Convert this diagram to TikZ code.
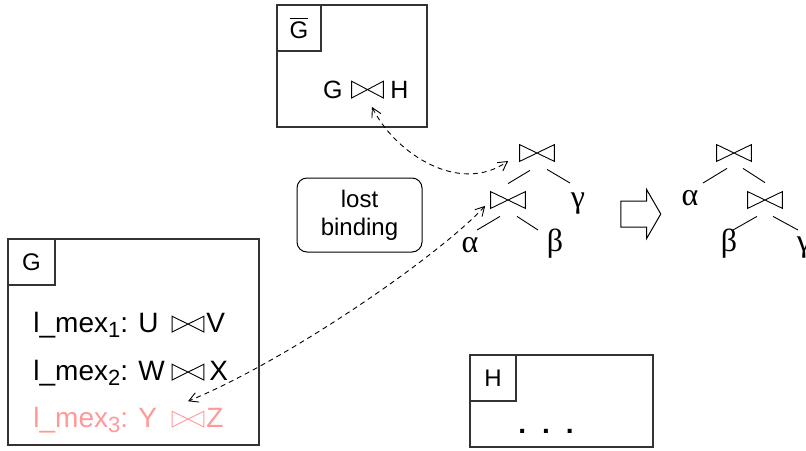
\documentclass[tikz,border=0pt]{standalone}
\usepackage{fontspec}
\setmainfont{Liberation Sans}
\newfontfamily\greekfont{Liberation Serif}
\usetikzlibrary{arrows.meta,shapes.arrows}
\definecolor{lostpink}{HTML}{FF9999}
\definecolor{boxgray}{HTML}{333333}
\newcommand{\mexsub}[1]{\raisebox{-2.5pt}{\fontsize{11}{12}\selectfont #1}}

\begin{document}
\begin{tikzpicture}[x=0.5pt,y=-0.5pt,>={Straight Barb[length=4.5pt,width=5pt]},
  frame/.style={draw=boxgray,line width=0.6pt,inner sep=0pt},
  tag/.style={frame,anchor=north west,minimum width=23pt,minimum height=23pt,font=\fontsize{12}{14}\selectfont},
  joinop/.style={inner sep=0pt,minimum width=17pt,minimum height=8pt,anchor=center},
  joinsm/.style={inner sep=0pt,minimum width=15.5pt,minimum height=7.5pt,anchor=south},
  mex/.style={inner sep=0pt,font=\fontsize{14}{16}\selectfont},
  greek/.style={inner sep=0pt,anchor=base,font=\fontsize{16}{18}\selectfont\greekfont},
  tedge/.style={line width=0.45pt},
  bind/.style={<->,dashed,dash pattern=on 2.5pt off 2pt,line width=0.45pt}]
\useasboundingbox (0,0) rectangle (806,450);

% the three graph boxes
\node[frame,minimum width=75pt,minimum height=61pt] (gbar) at (352,66) {};
\node[tag,minimum width=22pt] (gbartag) at (gbar.north west) {$\overline{\mbox{G}}$};
\node[mex,font=\fontsize{12.5}{14}\selectfont,anchor=base east] (gg) at (343,98) {G};
\node[joinsm,minimum height=8pt] (ghj) at (367.5,98) {};
\node[mex,font=\fontsize{12.5}{14}\selectfont,anchor=base west] (gh) at (390,98) {H};

\node[frame,minimum width=125.5pt,minimum height=103pt] (gbox) at (133.5,342) {};
\node[tag,minimum width=23.5pt] (gtag) at (gbox.north west) {G};
\node[mex,anchor=base west] (m1) at (33,332) {l\_mex\mexsub{1}: U};
\node[joinsm] (b1) at (188,332) {};
\node[mex,anchor=base west] (v1) at (206,332) {V};
\node[mex,anchor=base west] (m2) at (33,380) {l\_mex\mexsub{2}: W};
\node[joinsm] (b2) at (188,380) {};
\node[mex,anchor=base west] (x2) at (209,380) {X};
\node[mex,anchor=base west,text=lostpink] (m3) at (33,427) {l\_mex\mexsub{3}: Y};
\node[joinsm] (b3) at (188,427) {};
\node[mex,anchor=base west,text=lostpink] (z3) at (206,427) {Z};

\node[frame,minimum width=91.5pt,minimum height=46pt] (hbox) at (561.5,401) {};
\node[tag] (htag) at (hbox.north west) {H};
\node[mex,anchor=base] (dots) at (546,433) {\bfseries .\hspace{8pt}.\hspace{8pt}.};

\node[draw,rounded corners=5pt,line width=0.5pt,minimum width=62.5pt,minimum height=37pt,
  align=center,font=\fontsize{12}{14}\selectfont] (lost) at (359.5,215) {lost\\binding};

% join trees
\node[joinop] (j1) at (537,153) {};
\node[joinop] (j2) at (508,200) {};
\node[greek] (c1) at (578,207) {γ};
\node[greek] (a1) at (470,252) {α};
\node[greek] (bt1) at (555,251) {β};
\node[joinop] (j3) at (734,153) {};
\node[joinop] (j4) at (765,200) {};
\node[greek] (a2) at (690,205) {α};
\node[greek] (bt2) at (729,251) {β};
\node[greek] (c2) at (804,251) {γ};

\foreach \j in {ghj,b1,b2,j1,j2,j3,j4}
  \draw[line width=0.45pt] (\j.north west) -- (\j.south west) -- (\j.north east) -- (\j.south east) -- cycle;
\draw[line width=0.45pt,lostpink] (b3.north west) -- (b3.south west) -- (b3.north east) -- (b3.south east) -- cycle;

\draw[tedge] ([shift={(-7,9)}]j1.south) -- ([shift={(0,-8)}]j2.north);
\draw[tedge] ([shift={(10,8)}]j1.south) -- ([shift={(-8,-24)}]c1.base);
\draw[tedge] ([shift={(-8,8)}]j2.south) -- ([shift={(7,-22)}]a1.base);
\draw[tedge] ([shift={(9,8)}]j2.south) -- ([shift={(-17,-21)}]bt1.base);
\draw[tedge] ([shift={(-7,7)}]j3.south) -- ([shift={(13,-22)}]a2.base);
\draw[tedge] ([shift={(9,7)}]j3.south) -- ([shift={(0,-9)}]j4.north);
\draw[tedge] ([shift={(-8,8)}]j4.south) -- ([shift={(4,-21)}]bt2.base);
\draw[tedge] ([shift={(8,8)}]j4.south) -- ([shift={(-6,-21)}]c2.base);

\node[single arrow,draw,line width=0.5pt,inner sep=0pt,text height=12.5pt,text depth=0pt,
  minimum height=20pt,single arrow head extend=5.75pt,single arrow tip angle=120] (rewrite) at (637,214) {};

% bindings
\draw[bind,shorten <=5pt,shorten >=7pt] (ghj.south) .. controls +(28,56) and +(-60,42) .. (j1.west);
\draw[bind,shorten <=4pt] (j2.west) .. controls +(-51,55) and +(102,-42) .. ([yshift=5pt]b3.north);
\end{tikzpicture}
\end{document}
